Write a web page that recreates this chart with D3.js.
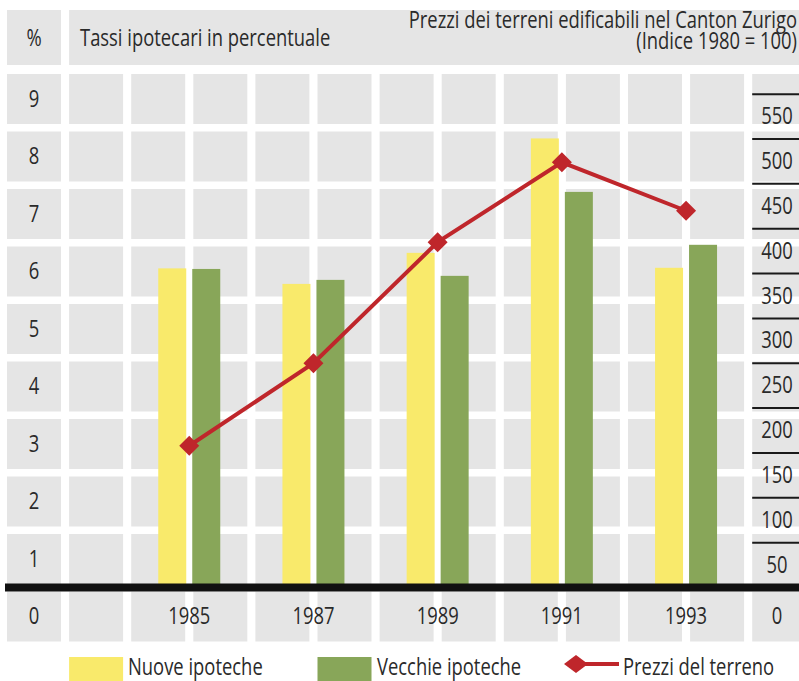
<!DOCTYPE html>
<html><head><meta charset="utf-8">
<script src="https://cdn.jsdelivr.net/npm/d3@7"></script>
<style>html,body{margin:0;padding:0;background:#fff;}svg{display:block;}</style>
</head><body>
<script>
// ---- data ----
const years = ["1985", "1987", "1989", "1991", "1993"];
const nuove = [5.55, 5.28, 5.82, 7.81, 5.56];      // Nuove ipoteche (%)
const vecchie = [5.54, 5.35, 5.42, 6.88, 5.96];    // Vecchie ipoteche (%)
const prezzi = [158, 250, 385, 474, 420];          // Prezzi del terreno (Indice 1980 = 100)
const leftTicks = [0, 1, 2, 3, 4, 5, 6, 7, 8, 9];
const rightTicks = [0, 50, 100, 150, 200, 250, 300, 350, 400, 450, 500, 550];
const legendLabels = ["Nuove ipoteche", "Vecchie ipoteche", "Prezzi del terreno"];
const titleLeft = "Tassi ipotecari in percentuale";
const titleRight = ["Prezzi dei terreni edificabili nel Canton Zurigo", "(Indice 1980 = 100)"];

// ---- layout ----
const W = 799, H = 681;
const colX0 = 7, colPitch = 62.1, cellW = 54, nCols = 13;
const rowY0 = 74, rowPitch = 57.5, cellH = 50, nRows = 10;
const base = 587.5;
const FONT = "'Open Sans', 'DejaVu Sans', sans-serif";
const FS = 23, SX = 0.8;
const col = {yellow: "#f9ea6b", green: "#88a659", red: "#bf262b", grey: "#e5e5e5", text: "#2a2a2a"};

const svg = d3.select("body").append("svg").attr("width", W).attr("height", H);

const colStart = i => colX0 + colPitch * i;

const x = d3.scalePoint().domain(years)
  .range([colStart(3) - (colPitch - cellW) / 2, colStart(11) - (colPitch - cellW) / 2]);
const yL = d3.scaleLinear().domain([0, 9]).range([base, base - 9 * rowPitch]);
const yR = d3.scaleLinear().domain([0, 550]).range([base, base - 550 * 0.897]);

function txt(g, s, px, py, anchor, size) {
  return g.append("text")
    .attr("transform", `translate(${px},${py}) scale(${SX},1)`)
    .attr("text-anchor", anchor || "middle")
    .attr("font-family", FONT).attr("font-size", size || FS)
    .attr("fill", col.text).text(s);
}

// header cells
svg.append("rect").attr("x", colStart(0)).attr("y", 10).attr("width", cellW).attr("height", 55).attr("fill", col.grey);
svg.append("rect").attr("x", colStart(1)).attr("y", 10).attr("width", W - colStart(1)).attr("height", 55).attr("fill", col.grey);

// grid cells
const cells = [];
for (let r = 0; r < nRows; r++) for (let c = 0; c < nCols; c++) cells.push({r, c});
svg.append("g").selectAll("rect").data(cells).join("rect")
  .attr("x", d => colStart(d.c)).attr("y", d => rowY0 + rowPitch * d.r)
  .attr("width", cellW).attr("height", cellH).attr("fill", col.grey);

// header texts
txt(svg, "%", colStart(0) + cellW / 2, 46);
txt(svg, titleLeft, 80, 46, "start");
txt(svg, titleRight[0], 797, 28, "end");
txt(svg, titleRight[1], 797, 49, "end");

// left axis labels (centered in band below each value)
const lgx = svg.append("g");
leftTicks.forEach(v => txt(lgx, String(v), colStart(0) + cellW / 2, yL(v) + rowPitch / 2 + 8));

// bars
const bw = 28, bgap = 3;
const bars = svg.append("g");
bars.selectAll("rect.n").data(years).join("rect").attr("class", "n")
  .attr("x", d => x(d) - bgap - bw).attr("width", bw)
  .attr("y", (d, i) => yL(nuove[i])).attr("height", (d, i) => yL(0) - yL(nuove[i]))
  .attr("fill", col.yellow);
bars.selectAll("rect.v").data(years).join("rect").attr("class", "v")
  .attr("x", d => x(d) + bgap).attr("width", bw)
  .attr("y", (d, i) => yL(vecchie[i])).attr("height", (d, i) => yL(0) - yL(vecchie[i]))
  .attr("fill", col.green);

// right axis lines and labels
const rx0 = colStart(12);
svg.append("g").selectAll("line").data(rightTicks.filter(v => v > 0)).join("line")
  .attr("x1", rx0).attr("x2", W).attr("y1", d => yR(d)).attr("y2", d => yR(d))
  .attr("stroke", "#1a1a1a").attr("stroke-width", 2);
const rg = svg.append("g");
rightTicks.forEach(v => {
  const py = v === 0 ? yL(0) + rowPitch / 2 + 8 : yR(v) + 22 + 8;
  txt(rg, String(v), 777, py);
});

// baseline
svg.append("rect").attr("x", 5).attr("y", base - 4).attr("width", W - 5).attr("height", 8).attr("fill", "#111");

// year labels
const yg = svg.append("g");
years.forEach(yv => txt(yg, yv, x(yv), yL(0) + rowPitch / 2 + 8));

// price line
const line = d3.line().x((d, i) => x(years[i])).y(d => yR(d));
svg.append("path").datum(prezzi).attr("d", line)
  .attr("fill", "none").attr("stroke", col.red).attr("stroke-width", 4).attr("stroke-linejoin", "miter");
const dia = d3.symbol().type(d3.symbolSquare).size(200);
svg.append("g").selectAll("path").data(prezzi).join("path")
  .attr("d", dia())
  .attr("transform", (d, i) => `translate(${x(years[i])},${yR(d)}) rotate(45)`)
  .attr("fill", col.red);

// legend
const lg = svg.append("g");
lg.append("rect").attr("x", colStart(1)).attr("y", 657).attr("width", cellW).attr("height", 24).attr("fill", col.yellow);
txt(lg, legendLabels[0], 128, 675, "start");
lg.append("rect").attr("x", colStart(5)).attr("y", 657).attr("width", cellW).attr("height", 24).attr("fill", col.green);
txt(lg, legendLabels[1], 377, 675, "start");
lg.append("line").attr("x1", 576).attr("x2", 619).attr("y1", 664).attr("y2", 664)
  .attr("stroke", col.red).attr("stroke-width", 4);
lg.append("path").attr("d", "M564,664 L576,655 L588,664 L576,673 Z").attr("fill", col.red);
txt(lg, legendLabels[2], 623, 675, "start");
</script>
</body></html>
